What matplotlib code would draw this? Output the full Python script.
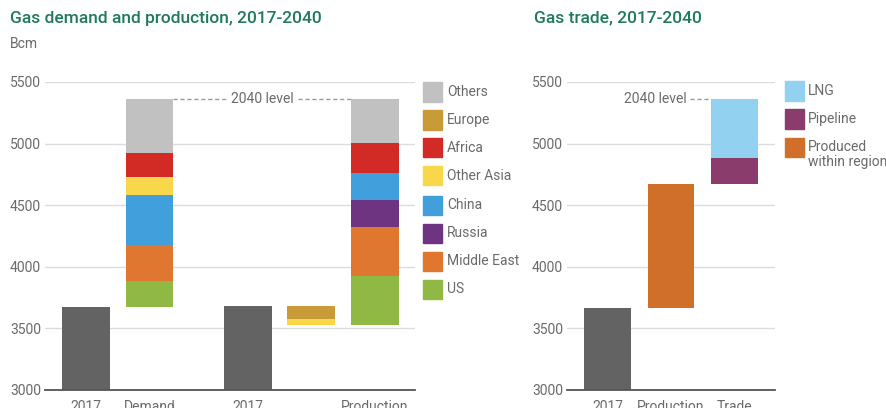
import matplotlib
matplotlib.use("Agg")
import matplotlib.pyplot as plt
from matplotlib.patches import Rectangle

plt.rcParams['font.family'] = ['Roboto', 'DejaVu Sans']

# ---------------- data ----------------
demand_2017 = 3670
demand_cats = ['US', 'Middle East', 'China', 'Other Asia', 'Africa', 'Others']
demand_inc = [215, 295, 405, 143, 194, 442]

prod_2017 = 3678
decline_cats = ['Europe', 'Other Asia']
decline_vals = [103, 45]
prod_cats = ['US', 'Middle East', 'Russia', 'China', 'Africa', 'Others']
prod_inc = [398, 395, 217, 221, 243, 360]

trade_2017 = 3665
trade_cats = ['Produced within region', 'Pipeline', 'LNG']
trade_inc = [1005, 217, 476]

left_labels = ['2017', 'Demand', '2017', '', 'Production']
right_labels = ['2017', 'Production', 'Trade']
yticks = [3000, 3500, 4000, 4500, 5000, 5500]

legend_left = ['Others', 'Europe', 'Africa', 'Other Asia', 'China', 'Russia', 'Middle East', 'US']
legend_right = ['LNG', 'Pipeline', 'Produced\nwithin region']

colors = {
    'Others': '#c1c1c1', 'Europe': '#c99a38', 'Africa': '#d22b26',
    'Other Asia': '#f8d84a', 'China': '#419fdc', 'Russia': '#6e3381',
    'Middle East': '#e07731', 'US': '#8fb944',
    'LNG': '#93d1f1', 'Pipeline': '#8a3c6c', 'Produced within region': '#d06f2a',
    'Produced\nwithin region': '#d06f2a',
}
DARK = '#636363'
GRID = '#dcdcdc'
TXT = '#6a6a6a'
TITLE = '#1f7a5a'

W, H = 887, 408
fig = plt.figure(figsize=(W / 100, H / 100), dpi=100)


def fx(px):
    return px / W


def fy(py):
    return 1 - py / H


def style_axes(ax):
    ax.set_ylim(3000, 5500)
    ax.set_yticks(yticks)
    ax.yaxis.grid(True, color=GRID, lw=1.0)
    ax.set_axisbelow(True)
    for s in ['top', 'right', 'left']:
        ax.spines[s].set_visible(False)
    ax.spines['bottom'].set_color('#555555')
    ax.spines['bottom'].set_linewidth(1.3)
    ax.tick_params(axis='y', length=0, pad=3, labelsize=10, labelcolor=TXT)
    ax.tick_params(axis='x', length=0, pad=7, labelsize=10, labelcolor=TXT)


# ---------------- left axes ----------------
axL = fig.add_axes([fx(45), fy(390), fx(415) - fx(45), fy(82) - fy(390)])
pos = [0, 1, 2.55, 3.55, 4.55]
bw = 0.755

axL.bar(pos[0], demand_2017 - 3000, bottom=3000, width=bw, color=DARK)
b = demand_2017
for c, v in zip(demand_cats, demand_inc):
    axL.bar(pos[1], v, bottom=b, width=bw, color=colors[c])
    b += v
demand_2040 = b

axL.bar(pos[2], prod_2017 - 3000, bottom=3000, width=bw, color=DARK)
top = prod_2017
for c, v in zip(decline_cats, decline_vals):
    axL.bar(pos[3], v, bottom=top - v, width=bw, color=colors[c])
    top -= v
b = top
for c, v in zip(prod_cats, prod_inc):
    axL.bar(pos[4], v, bottom=b, width=bw, color=colors[c])
    b += v
prod_2040 = b

axL.plot([pos[1] + bw / 2, pos[4] - bw / 2], [demand_2040, demand_2040],
         ls=(0, (3, 2)), color='#9a9a9a', lw=1)
axL.text((pos[1] + pos[4]) / 2, demand_2040, '2040 level', ha='center', va='center',
         fontsize=10, color=TXT, bbox=dict(facecolor='white', edgecolor='none', pad=1.5))
axL.set_xlim(-0.646, 5.181)
axL.set_xticks(pos)
axL.set_xticklabels(left_labels)
style_axes(axL)

# ---------------- right axes ----------------
axR = fig.add_axes([fx(567), fy(390), fx(775) - fx(567), fy(82) - fy(390)])
rpos = [0, 1, 2]
axR.bar(rpos[0], trade_2017 - 3000, bottom=3000, width=0.74, color=DARK)
b = trade_2017
for i, (c, v) in enumerate(zip(trade_cats, trade_inc)):
    p = rpos[1] if i == 0 else rpos[2]
    axR.bar(p, v, bottom=b, width=0.74, color=colors[c])
    b += v
trade_2040 = b
axR.plot([1.30, rpos[2] - 0.37], [trade_2040, trade_2040], ls=(0, (3, 2)),
         color='#9a9a9a', lw=1)
axR.text(1.25, trade_2040, '2040 level', ha='right', va='center', fontsize=10, color=TXT)
axR.set_xlim(-0.638, 2.638)
axR.set_xticks(rpos)
axR.set_xticklabels(right_labels)
style_axes(axR)

# ---------------- titles ----------------
fig.text(fx(10), fy(18), 'Gas demand and production, 2017-2040', ha='left', va='center',
         fontsize=12.5, color=TITLE, fontweight='medium')
fig.text(fx(534), fy(18), 'Gas trade, 2017-2040', ha='left', va='center',
         fontsize=12.5, color=TITLE, fontweight='medium')
fig.text(fx(10), fy(44), 'Bcm', ha='left', va='center', fontsize=10, color=TXT)

# ---------------- legends ----------------
rows = [92, 120, 148, 176, 205, 233, 261, 289]
for name, yc in zip(legend_left, rows):
    fig.patches.append(Rectangle((fx(423), fy(yc + 9.5)), fx(19), 19 / H,
                                 transform=fig.transFigure, color=colors[name]))
    fig.text(fx(447), fy(yc), name, ha='left', va='center', fontsize=10, color=TXT)

rrows = [91, 119, 148]
for name, yc in zip(legend_right, rrows):
    fig.patches.append(Rectangle((fx(785), fy(yc + 9.5)), fx(19), 19 / H,
                                 transform=fig.transFigure, color=colors[name]))
    if '\n' in name:
        fig.text(fx(808), fy(yc - 8), name, ha='left', va='top', fontsize=10, color=TXT,
                 linespacing=1.05)
    else:
        fig.text(fx(808), fy(yc), name, ha='left', va='center', fontsize=10, color=TXT)

fig.savefig('out.png', dpi=100)
